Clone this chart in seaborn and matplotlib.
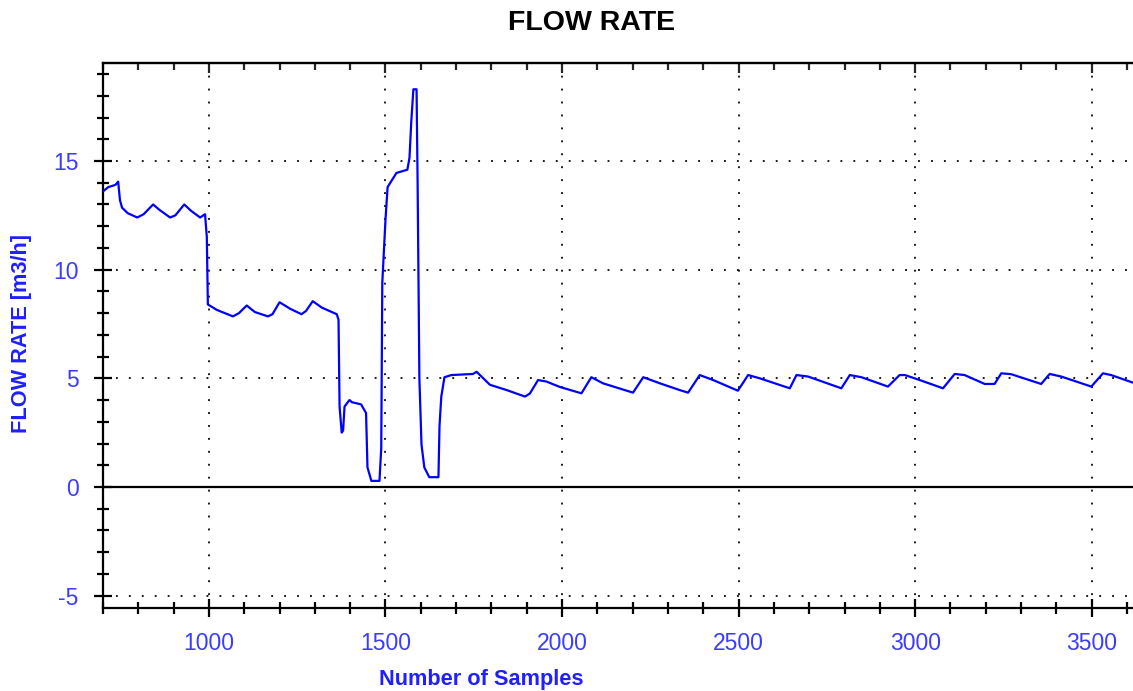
import matplotlib
matplotlib.use("Agg")
import matplotlib.pyplot as plt
import seaborn as sns
import pandas as pd
from matplotlib.ticker import MultipleLocator

# ---- data ----
samples = [700, 715, 735, 743, 748, 754, 770, 797, 815, 842, 860, 890, 905, 930, 950, 975, 989, 994, 997,
           1022, 1068, 1085, 1107, 1130, 1167, 1180, 1200, 1230, 1262, 1275, 1294, 1320, 1362, 1367,
           1370, 1376, 1380, 1384, 1398, 1405, 1431, 1445, 1449, 1460, 1483, 1488, 1491, 1500, 1506,
           1531, 1562, 1568, 1573, 1579, 1588, 1591, 1596, 1602, 1610, 1624, 1650, 1653, 1658, 1667,
           1687, 1748, 1758, 1796, 1843, 1895, 1909, 1932, 1956, 1994, 2055, 2083, 2116, 2201, 2230,
           2277, 2333, 2357, 2390, 2428, 2498, 2527, 2560, 2645, 2664, 2697, 2791, 2815, 2848, 2923,
           2956, 2971, 3013, 3079, 3112, 3140, 3197, 3225, 3244, 3272, 3357, 3381, 3414, 3499, 3532,
           3555, 3617, 3630]
flow = [13.6, 13.8, 13.9, 14.05, 13.2, 12.85, 12.6, 12.4, 12.55, 13.0, 12.75, 12.4, 12.5, 13.0, 12.7, 12.4, 12.55, 11.5, 8.4,
        8.15, 7.85, 8.0, 8.35, 8.05, 7.85, 7.95, 8.5, 8.2, 7.95, 8.1, 8.55, 8.25, 7.95, 7.7,
        3.7, 2.5, 2.6, 3.7, 4.0, 3.9, 3.8, 3.4, 0.9, 0.28, 0.28, 1.8, 9.4, 12.3, 13.8,
        14.45, 14.6, 15.15, 16.8, 18.3, 18.3, 14.0, 5.0, 1.95, 0.9, 0.45, 0.45, 2.8, 4.15, 5.05,
        5.15, 5.2, 5.3, 4.7, 4.46, 4.16, 4.3, 4.92, 4.85, 4.6, 4.31, 5.05, 4.77, 4.34, 5.05,
        4.77, 4.46, 4.34, 5.15, 4.92, 4.43, 5.15, 5.0, 4.54, 5.15, 5.08, 4.54, 5.15, 5.05, 4.62,
        5.15, 5.15, 4.92, 4.54, 5.2, 5.15, 4.74, 4.74, 5.23, 5.19, 4.74, 5.2, 5.08, 4.62, 5.23,
        5.15, 4.8, 4.75]

x_major = [1000, 1500, 2000, 2500, 3000, 3500]
y_major = [-5, 0, 5, 10, 15]

title_text = "FLOW RATE"
xlabel_text = "Number of Samples"
ylabel_text = "FLOW RATE [m3/h]"

df = pd.DataFrame({"samples": samples, "flow": flow})

# ---- style ----
sns.set_style("white")
plt.rcParams["font.family"] = ["Liberation Sans", "DejaVu Sans"]

fig = plt.figure(figsize=(11.33, 6.91), dpi=100)
ax = fig.add_axes([103 / 1133, 83 / 691, 1030 / 1133, 545 / 691])

sns.lineplot(data=df, x="samples", y="flow", sort=False, estimator=None,
             color="#0000ff", linewidth=1.6, ax=ax, zorder=3)

ax.set_xlim(700, 3617)
ax.set_ylim(-5.57, 19.51)

tick_color = "#3c3cff"
label_color = "#1f1fff"

ax.set_xticks(x_major)
ax.set_yticks(y_major)
ax.xaxis.set_minor_locator(MultipleLocator(100))
ax.yaxis.set_minor_locator(MultipleLocator(1))
ax.set_xticklabels([str(v) for v in x_major])
ax.set_yticklabels([str(v) for v in y_major])

ax.tick_params(axis="both", which="major", direction="inout", length=13, width=1.6,
               color="black", labelcolor=tick_color, labelsize=16.5, pad=11)
ax.tick_params(axis="both", which="minor", direction="inout", length=8, width=1.6, color="black")
ax.tick_params(axis="x", which="both", bottom=True, top=False)
ax.tick_params(axis="y", which="both", left=True, right=False)

# top axis ticks (inward)
sec = ax.secondary_xaxis("top")
sec.set_xticks(x_major)
sec.xaxis.set_minor_locator(MultipleLocator(100))
sec.tick_params(which="major", direction="in", length=7, width=1.6, labeltop=False)
sec.tick_params(which="minor", direction="in", length=5, width=1.6)
sec.spines["top"].set_linewidth(1.6)

for side in ["left", "bottom", "top"]:
    ax.spines[side].set_visible(True)
    ax.spines[side].set_color("black")
    ax.spines[side].set_linewidth(1.6)
ax.spines["right"].set_visible(False)

# dotted grid
dots = (0, (1.0, 5.9))
for xv in x_major:
    ax.axvline(xv, color="#111111", linewidth=1.35, linestyle=dots, zorder=1)
for yv in y_major:
    if yv != 0:
        ax.axhline(yv, color="#111111", linewidth=1.35, linestyle=dots, zorder=1)
ax.axhline(0, color="black", linewidth=1.6, zorder=2)

ax.set_xlabel(xlabel_text, color=label_color, fontsize=15.7, fontweight="bold")
ax.set_ylabel(ylabel_text, color=label_color, fontsize=15.7, fontweight="bold")
ax.xaxis.set_label_coords(0.367, -0.112)
ax.yaxis.set_label_coords(-0.069, 0.503)

fig.text(592 / 1133, 1 - 23 / 691, title_text, ha="center", va="center",
         fontsize=20.5, fontweight="bold", color="black")

fig.savefig("out.png", dpi=100)
